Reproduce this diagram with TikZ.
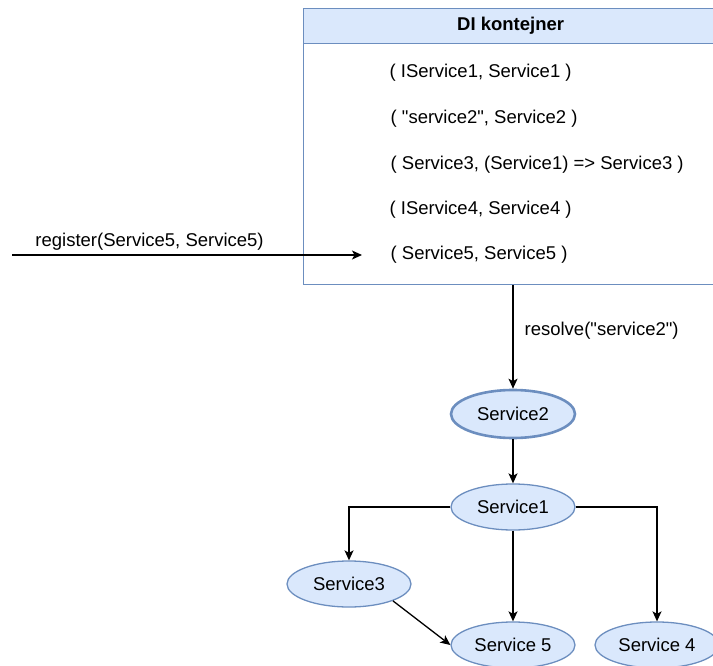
\documentclass[tikz,border=0pt]{standalone}
\usepackage{fontspec}
\setmainfont{Liberation Sans}
\usepackage{tikz}
\usetikzlibrary{arrows.meta,shapes.geometric,positioning}
\definecolor{srvfill}{HTML}{DAE8FC}
\definecolor{srvline}{HTML}{6C8EBF}
\tikzstyle{service}=[ellipse,draw=srvline,fill=srvfill,line width=1.3pt,
minimum width=124pt,minimum height=46pt,inner sep=0pt]
\tikzstyle{entry}=[anchor=west,inner xsep=28pt,inner ysep=0pt]
\tikzstyle{header}=[rectangle,draw=srvline,fill=srvfill,line width=1.3pt,
minimum width=414pt,minimum height=35pt,anchor=north west]
\tikzstyle{container}=[rectangle,draw=srvline,fill=white,line width=1.3pt,
minimum width=414pt,minimum height=241pt,anchor=north west]

\begin{document}
\begin{tikzpicture}[x=1pt,y=-1pt,>={Stealth[length=10pt,width=9pt,inset=2.5pt]},
  every node/.style={font=\fontsize{18.5}{22}\selectfont},line width=1.3pt]
    \useasboundingbox (0,0) rectangle (713,666);
    % The container with its registrations:
    \node (body) [container] at (303,43) {};
    \node (head) [header] at (303,8) {\fontsize{18.5}{22}\selectfont\bfseries DI kontejner};
    \node (r1) [entry] at (361,73)  {( IService1, Service1 )};
    \node (r2) [entry] at (362,119) {( \textquotedbl service2\textquotedbl, Service2 )};
    \node (r3) [entry] at (362,165) {( Service3, (Service1) => Service3 )};
    \node (r4) [entry] at (361,210) {( IService4, Service4 )};
    \node (r5) [entry] at (362,255) {( Service5, Service5 )};
    \coordinate (reg) at (12,255);
    % The resolved services:
    \node (s2) [service,line width=2.6pt,minimum height=48pt] at (513,414) {Service2};
    \node (s1) [service] at (513,507) {Service1};
    \node (s3) [service] at (349,584) {Service3};
    \node (s5) [service] at (513,645) {Service 5};
    \node (s4) [service] at (657,645) {Service 4};
    % The diagram elements are now connected through arrows:
    \path[->]
    (reg) edge node[pos=0.393,above,inner sep=4pt] {register(Service5, Service5)} (r5.west)
    (body.south -| s2.north) edge node[pos=0.44,anchor=west,inner xsep=11pt] {resolve(\textquotedbl service2\textquotedbl)} (s2)
    (s2) edge (s1)
    (s1) edge (s5)
    (s3.-21) edge (s5.west)
    ;
    \draw[->] (s1.west) -| (s3.north);
    \draw[->] (s1.east) -| (s4.north);
  \end{tikzpicture}
\end{document}
